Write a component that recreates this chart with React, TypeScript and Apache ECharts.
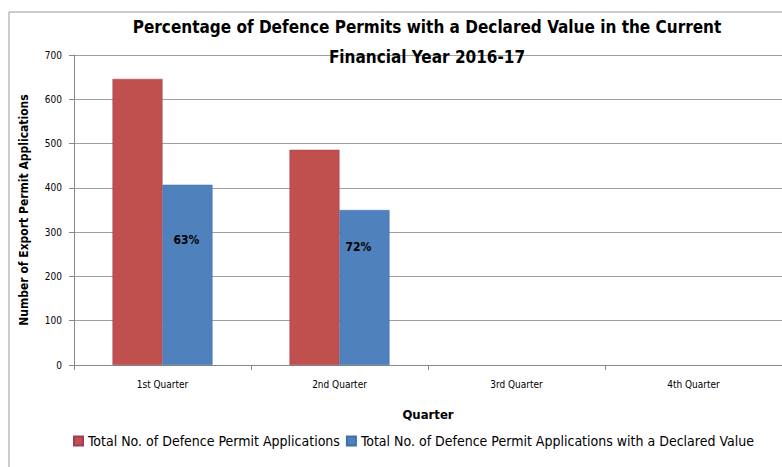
import React, { useEffect, useRef } from "react";
import * as echarts from "echarts";

const categories = ["1st Quarter", "2nd Quarter", "3rd Quarter", "4th Quarter"];
const totalApps = [646, 486, null, null];
const declaredApps = [407, 350, null, null];
const seriesNames = [
  "Total No. of Defence Permit Applications",
  "Total No. of Defence Permit Applications with a Declared Value",
];
const labelOffsets = [[-1, 44], [-6, 26]];

export default function App() {
  const ref = useRef<HTMLDivElement>(null);
  useEffect(() => {
    const chart = echarts.init(ref.current!, null, { renderer: "svg" });
    const font = "'DejaVu Sans Condensed', 'Liberation Sans Narrow', 'Liberation Sans', sans-serif";
    chart.setOption({
      animation: false,
      backgroundColor: "#ffffff",
      title: {
        text: "Percentage of Defence Permits with a Declared Value in the Current\nFinancial Year 2016-17",
        left: 422,
        textAlign: "center",
        top: 7,
        textStyle: { fontFamily: font, fontSize: 17, fontWeight: "bold", color: "#000", lineHeight: 30 },
      },
      graphic: [
        {
          type: "rect",
          shape: { x: 9, y: 12, width: 800, height: 500 },
          style: { fill: "none", stroke: "#999", lineWidth: 1 },
          silent: true,
          z: -1,
        },
      ],
      legend: {
        bottom: 14,
        left: 68,
        itemWidth: 9,
        itemHeight: 9,
        itemGap: 6,
        itemTextGap: 4,
        icon: "rect",
        textStyle: { fontFamily: font, fontSize: 14, color: "#000" },
        data: seriesNames,
      },
      grid: { left: 74, right: 0, top: 55, bottom: 102, containLabel: false },
      xAxis: {
        type: "category",
        data: categories,
        name: "Quarter",
        nameLocation: "middle",
        nameGap: 43,
        nameTextStyle: { fontFamily: font, fontSize: 13, fontWeight: "bold", color: "#000" },
        axisLine: { lineStyle: { color: "#888" } },
        axisTick: { show: true, length: 5, lineStyle: { color: "#888" } },
        axisLabel: { fontFamily: font, fontSize: 10, color: "#000", margin: 14 },
      },
      yAxis: {
        type: "value",
        min: 0,
        max: 700,
        interval: 100,
        name: "Number of Export Permit Applications",
        nameLocation: "middle",
        nameGap: 44,
        nameTextStyle: { fontFamily: font, fontSize: 12, fontWeight: "bold", color: "#000" },
        axisLine: { show: true, lineStyle: { color: "#888" } },
        axisTick: { show: true, length: 5, lineStyle: { color: "#888" } },
        axisLabel: { fontFamily: font, fontSize: 10, color: "#000", margin: 12 },
        splitLine: { lineStyle: { color: "#a0a0a0" } },
      },
      series: [
        {
          name: seriesNames[0],
          type: "bar",
          data: totalApps,
          barWidth: 50,
          barGap: "0%",
          itemStyle: { color: "#c0504d", borderColor: "#a03c5a", borderWidth: 0.5 },
        },
        {
          name: seriesNames[1],
          type: "bar",
          data: declaredApps.map((v, i) =>
            v == null
              ? null
              : {
                  value: v,
                  label: {
                    show: true,
                    position: "insideTop",
                    offset: labelOffsets[i],
                    formatter: () => Math.round(((v as number) / (totalApps[i] as number)) * 100) + "%",
                    fontFamily: font,
                    fontSize: 12,
                    fontWeight: "bold",
                    color: "#000",
                  },
                }
          ),
          barWidth: 50,
          itemStyle: { color: "#4f81bd", borderColor: "#3f6fa8", borderWidth: 0.5 },
        },
      ],
    });
    return () => chart.dispose();
  }, []);
  return <div ref={ref} style={{ width: 782, height: 467, position: "absolute", left: 0, top: 0 }} />;
}
